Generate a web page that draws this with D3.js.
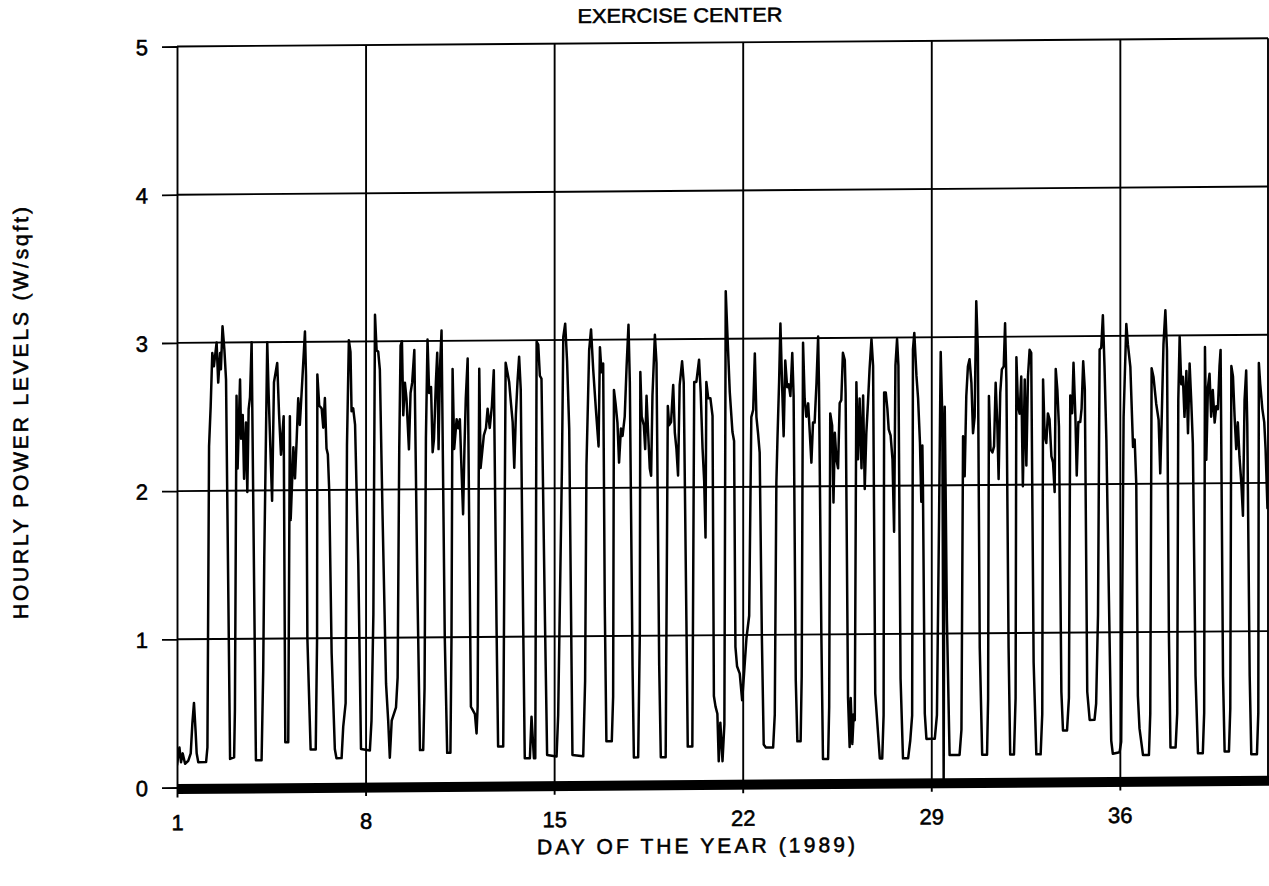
<!DOCTYPE html>
<html>
<head>
<meta charset="utf-8">
<script src="https://cdn.jsdelivr.net/npm/d3@7"></script>
<style>
  html, body { margin: 0; padding: 0; background: #fff; }
  svg { display: block; }
  text { font-family: "Liberation Sans", Arial, Helvetica, sans-serif; fill: #000; stroke: #000; stroke-width: 0.55px; }
</style>
</head>
<body>
<svg id="chart" width="1269" height="886"></svg>
<script>
// Hourly power density of the exercise center, [day of year, W/sqft]
const week1 = [
  [1.00,0.15],[1.09,0.27],[1.15,0.17],[1.21,0.23],[1.30,0.16],[1.42,0.18],[1.51,0.23],[1.57,0.43],
  [1.63,0.57],[1.69,0.38],[1.73,0.23],[1.79,0.17],[2.08,0.17],[2.13,0.27],[2.19,2.30],[2.25,2.57],
  [2.31,2.93],[2.37,2.84],[2.47,3.00],[2.53,2.73],[2.60,2.93],[2.63,2.82],[2.69,3.11],[2.76,2.95],
  [2.82,2.75],[2.97,0.19],[3.12,0.20],[3.15,0.52],[3.21,2.64],[3.25,2.15],[3.34,2.75],[3.38,2.35],
  [3.44,2.51],[3.49,2.08],[3.56,2.46],[3.61,1.99],[3.66,2.55],[3.71,2.63],[3.77,3.00],[3.93,0.18],
  [4.14,0.18],[4.20,0.78],[4.24,1.55],[4.35,3.00],[4.40,2.66],[4.53,1.93],[4.60,2.73],[4.72,2.86],
  [4.79,2.51],[4.86,2.24],[4.96,2.50],[5.02,0.30],[5.13,0.30],[5.19,2.50],[5.22,1.80],[5.32,2.29],
  [5.38,2.08],[5.44,2.33],[5.50,2.62],[5.56,2.44],[5.66,2.77],[5.75,3.07],[5.79,2.77],[5.84,1.00],
  [5.96,0.25],[6.15,0.25],[6.20,1.00],[6.21,2.78],[6.28,2.57],[6.37,2.55],[6.43,2.42],[6.49,2.62],
  [6.55,2.28],[6.60,2.24],[6.65,2.00],[6.74,0.90],[6.86,0.25],[6.92,0.19],[7.11,0.19],[7.17,0.40],
  [7.26,0.56],[7.31,2.30],[7.38,3.01],[7.44,2.93],[7.48,2.53],[7.54,2.55],[7.61,2.44],[7.73,1.50],
  [7.83,0.25]
];
const week2 = [
  [8.16,0.24],[8.22,0.44],[8.29,1.16],[8.35,3.18],[8.41,2.94],[8.47,2.93],[8.53,2.81],[8.63,1.83],
  [8.76,0.69],[8.84,0.44],[8.90,0.19],[8.97,0.44],[9.13,0.53],[9.19,0.73],[9.25,2.27],[9.30,2.97],
  [9.35,3.00],[9.40,2.50],[9.46,2.72],[9.52,2.61],[9.61,2.27],[9.67,2.65],[9.73,2.72],[9.81,2.94],
  [9.92,1.38],[10.02,0.24],[10.14,0.24],[10.19,0.66],[10.24,2.34],[10.30,3.01],[10.36,2.65],[10.43,2.69],
  [10.49,2.25],[10.54,2.34],[10.61,2.72],[10.66,2.92],[10.71,2.27],[10.76,2.81],[10.82,3.07],[10.94,1.00],
  [11.03,0.22],[11.15,0.22],[11.19,1.00],[11.23,2.81],[11.29,2.27],[11.38,2.47],[11.44,2.41],[11.50,2.47],
  [11.56,2.14],[11.62,1.83],[11.67,2.27],[11.72,2.61],[11.79,2.88],[11.91,0.53],[11.97,0.51],[12.06,0.48],
  [12.12,0.35],[12.16,0.53],[12.22,2.81],[12.27,2.14],[12.32,2.23],[12.39,2.36],[12.47,2.41],[12.53,2.54],
  [12.61,2.41],[12.69,2.56],[12.76,2.80],[12.86,1.10],[12.92,0.26],[13.11,0.26],[13.20,2.85],[13.26,2.79],
  [13.33,2.72],[13.39,2.59],[13.46,2.45],[13.52,2.14],[13.58,2.50],[13.64,2.72],[13.70,2.89],[13.76,2.67],
  [13.85,1.10],[13.91,0.18],[14.10,0.18],[14.16,0.46],[14.25,0.18],[14.30,0.18],[14.35,2.99],[14.41,2.97],
  [14.47,2.76],[14.53,2.74],[14.66,1.10],[14.74,0.20]
];
const week3 = [
  [15.09,0.19],[15.15,0.47],[15.29,2.15],[15.34,3.02],[15.41,3.11],[15.48,2.86],[15.56,2.40],[15.68,0.20],
  [16.08,0.19],[16.15,0.70],[16.20,2.15],[16.30,2.93],[16.37,3.07],[16.45,2.80],[16.55,2.53],[16.65,2.28],
  [16.70,2.95],[16.76,2.78],[16.82,2.84],[16.88,1.20],[16.94,0.29],[17.14,0.29],[17.19,0.59],[17.22,2.66],
  [17.28,2.57],[17.35,2.44],[17.41,2.17],[17.48,2.40],[17.54,2.35],[17.62,2.48],[17.69,2.82],[17.76,3.10],
  [17.81,2.71],[17.91,0.80],[17.96,0.18],[18.12,0.18],[18.18,1.00],[18.20,2.78],[18.25,2.48],[18.33,2.42],
  [18.38,2.26],[18.43,2.62],[18.49,2.37],[18.55,2.13],[18.60,2.08],[18.65,2.62],[18.74,3.03],[18.80,2.84],
  [18.90,0.80],[18.96,0.18],[19.14,0.18],[19.22,2.55],[19.27,2.42],[19.34,2.44],[19.42,2.69],[19.48,2.37],
  [19.54,2.26],[19.60,2.08],[19.66,2.69],[19.75,2.85],[19.81,2.71],[19.91,1.10],[19.96,0.25],[20.13,0.25],
  [20.20,2.71],[20.28,2.71],[20.38,2.86],[20.44,2.64],[20.51,2.26],[20.57,2.04],[20.62,1.66],[20.65,2.71],
  [20.72,2.60],[20.80,2.60],[20.88,2.48],[20.93,0.59],[20.99,0.52],[21.06,0.47],[21.11,0.15],[21.17,0.41],
  [21.25,0.15],[21.32,0.40],[21.37,3.32],[21.43,3.04],[21.52,2.64],[21.62,2.37],[21.68,2.31],[21.73,0.92],
  [21.79,0.79],[21.89,0.74],[21.98,0.56]
];
const week4 = [
  [22.05,0.74],[22.14,0.98],[22.24,1.13],[22.32,2.47],[22.39,2.52],[22.45,2.90],[22.51,2.47],[22.57,2.36],
  [22.63,2.23],[22.71,1.00],[22.78,0.26],[22.86,0.24],[23.13,0.24],[23.19,0.46],[23.25,2.03],[23.29,2.32],
  [23.35,2.70],[23.40,3.10],[23.46,2.70],[23.52,2.34],[23.58,2.85],[23.65,2.67],[23.71,2.69],[23.77,2.61],
  [23.84,2.90],[23.89,2.61],[23.97,0.69],[24.03,0.28],[24.15,0.28],[24.19,0.72],[24.24,2.97],[24.30,2.59],
  [24.36,2.47],[24.43,2.56],[24.49,2.36],[24.55,2.16],[24.61,2.43],[24.67,2.43],[24.74,2.70],[24.80,3.01],
  [24.83,2.70],[24.92,1.00],[24.98,0.16],[25.17,0.16],[25.21,0.51],[25.25,2.49],[25.32,2.41],[25.37,1.89],
  [25.42,2.36],[25.48,2.18],[25.54,2.12],[25.60,2.56],[25.66,2.58],[25.72,2.90],[25.79,2.85],[25.82,2.63],
  [25.91,0.57],[25.97,0.24],[26.01,0.57],[26.07,0.26],[26.12,0.46],[26.16,0.42],[26.22,2.70],[26.28,2.18],
  [26.34,2.59],[26.41,2.12],[26.47,2.61],[26.53,1.98],[26.59,2.36],[26.65,2.56],[26.71,2.79],[26.78,2.99],
  [26.84,2.81],[26.92,0.60],[27.09,0.16],[27.18,0.16],[27.23,0.45],[27.25,2.63],[27.31,2.63],[27.37,2.52],
  [27.42,2.38],[27.49,2.34],[27.56,2.18],[27.62,1.69],[27.67,2.81],[27.73,2.99],[27.78,2.81],[27.86,0.70],
  [27.95,0.16],[28.14,0.16],[28.22,0.28],[28.29,0.45],[28.32,2.92],[28.37,3.03],[28.45,2.74],[28.51,2.59],
  [28.58,2.29],[28.63,1.89],[28.67,2.27],[28.69,2.00],[28.76,0.46],[28.82,0.29],[29.00,0.29]
];
const week5 = [
  [29.13,0.29],[29.21,0.45],[29.29,1.79],[29.35,2.90],[29.41,2.46],[29.46,0.02],[29.50,2.53],[29.53,2.02],
  [29.58,1.10],[29.68,0.18],[30.05,0.18],[30.12,0.35],[30.18,2.33],[30.24,2.06],[30.30,2.60],[30.36,2.80],
  [30.42,2.85],[30.49,2.69],[30.55,2.35],[30.61,2.46],[30.67,3.24],[30.73,2.91],[30.80,0.90],[30.89,0.18],
  [31.07,0.18],[31.11,0.56],[31.14,2.60],[31.20,2.24],[31.27,2.22],[31.33,2.26],[31.39,2.69],[31.45,2.42],
  [31.50,2.04],[31.56,2.62],[31.62,2.78],[31.69,2.80],[31.74,3.09],[31.79,2.69],[31.87,0.90],[31.93,0.18],
  [32.07,0.18],[32.13,0.56],[32.16,2.86],[32.22,2.53],[32.28,2.48],[32.34,2.73],[32.40,1.99],[32.47,2.71],
  [32.53,2.13],[32.59,2.73],[32.65,2.91],[32.71,2.89],[32.80,0.80],[32.90,0.18],[33.06,0.18],[33.12,0.45],
  [33.15,2.71],[33.21,2.33],[33.27,2.28],[33.33,2.48],[33.39,2.44],[33.46,2.19],[33.52,2.15],[33.58,1.95],
  [33.62,2.78],[33.68,2.64],[33.74,2.39],[33.83,0.60],[33.89,0.34],[34.04,0.34],[34.11,0.56],[34.16,2.60],
  [34.23,2.48],[34.28,2.82],[34.35,2.46],[34.40,2.06],[34.46,2.42],[34.53,2.42],[34.58,2.51],[34.64,2.83],
  [34.70,2.64],[34.79,0.60],[34.88,0.41],[35.06,0.41],[35.12,0.52],[35.19,1.12],[35.25,2.91],[35.31,2.92],
  [35.37,3.14],[35.43,2.80],[35.50,2.30],[35.68,0.27],[35.74,0.18]
];
const week6 = [
  [35.99,0.19],[36.05,0.26],[36.14,2.45],[36.24,3.08],[36.30,2.94],[36.39,2.79],[36.49,2.25],[36.55,2.30],
  [36.61,2.00],[36.67,0.57],[36.73,0.35],[36.86,0.17],[37.08,0.17],[37.13,0.45],[37.18,2.78],[37.25,2.72],
  [37.35,2.54],[37.44,2.43],[37.50,2.07],[37.55,2.41],[37.62,2.94],[37.69,3.17],[37.75,2.90],[37.82,1.00],
  [37.88,0.22],[38.07,0.22],[38.13,0.45],[38.17,2.56],[38.22,2.99],[38.28,2.67],[38.34,2.72],[38.40,2.45],
  [38.47,2.76],[38.53,2.34],[38.59,2.81],[38.65,2.56],[38.71,2.27],[38.81,0.70],[38.90,0.18],[39.08,0.18],
  [39.13,0.45],[39.16,2.92],[39.21,2.16],[39.27,2.65],[39.33,2.74],[39.39,2.45],[39.45,2.63],[39.52,2.41],
  [39.58,2.52],[39.64,2.50],[39.70,2.79],[39.74,2.90],[39.83,0.70],[39.89,0.19],[40.05,0.19],[40.10,0.48],
  [40.14,2.79],[40.20,2.72],[40.26,2.45],[40.32,2.23],[40.38,2.41],[40.44,2.18],[40.51,2.00],[40.57,1.78],
  [40.63,2.56],[40.69,2.76],[40.73,2.40],[40.82,0.70],[40.88,0.17],[41.09,0.17],[41.14,0.45],[41.16,2.81],
  [41.21,2.67],[41.29,2.50],[41.36,2.41],[41.41,2.23],[41.48,1.83],[41.52,1.90]
];

const xTicks = [1, 8, 15, 22, 29, 36];
const yTicks = [0, 1, 2, 3, 4, 5];
const titleText = "EXERCISE CENTER";
const xTitle = "DAY OF THE YEAR (1989)";
const yTitle = "HOURLY POWER LEVELS (W/sqft)";

const readings = [].concat(week1, week2, week3, week4, week5, week6);

const svg = d3.select("#chart");
const plotLeft = 177, plotRight = 1268, plotTop = 46.5, plotBottom = 787.5;

const x = d3.scaleLinear().domain([1, 41.5]).range([plotLeft, plotRight]);
const y = d3.scaleLinear().domain([0, 5]).range([plotBottom, plotTop]);

// the plotted sheet sits slightly sheared: horizontals rise towards the right
const g = svg.append("g")
  .attr("transform", `translate(${plotLeft},0) skewY(-0.43) translate(${-plotLeft},0)`);

svg.append("defs").append("clipPath").attr("id", "plotClip")
  .append("rect").attr("x", plotLeft).attr("y", plotTop - 5)
  .attr("width", plotRight - plotLeft).attr("height", plotBottom - plotTop + 10);

// y ticks and labels
const yAxis = d3.axisLeft(y).tickValues(yTicks).tickSize(15).tickPadding(14)
  .tickFormat(d3.format("d"));
const yAxisG = g.append("g").attr("transform", `translate(${plotLeft},0)`).call(yAxis);
yAxisG.select(".domain").remove();
yAxisG.selectAll(".tick line").attr("stroke", "#000").attr("stroke-width", 1.8);
yAxisG.selectAll(".tick text").attr("font-size", 22).attr("dy", "0.36em");

// horizontal grid lines (top one closes the frame)
g.append("g").selectAll("line").data(yTicks.filter(v => v > 0)).join("line")
  .attr("x1", plotLeft).attr("x2", plotRight)
  .attr("y1", d => y(d)).attr("y2", d => y(d))
  .attr("stroke", "#000").attr("stroke-width", 1.9);

// vertical grid lines with tick labels below the baseline
const xAxis = d3.axisBottom(x).tickValues(xTicks).tickSize(0).tickPadding(17)
  .tickFormat(d3.format("d"));
const xAxisG = g.append("g").attr("transform", `translate(0,${plotBottom + 10})`).call(xAxis);
xAxisG.select(".domain").remove();
xAxisG.selectAll(".tick line").attr("stroke", "#000").attr("stroke-width", 1.9)
  .attr("y1", 0).attr("y2", -(plotBottom - plotTop) - 10);
xAxisG.selectAll(".tick text").attr("font-size", 22).attr("dy", "0.71em");

// right frame edge
g.append("line").attr("x1", plotRight).attr("x2", plotRight).attr("y1", y(5)).attr("y2", y(0))
  .attr("stroke", "#000").attr("stroke-width", 1.9);

// heavy zero baseline
g.append("line").attr("x1", plotLeft).attr("x2", plotRight + 2)
  .attr("y1", y(0) + 1.5).attr("y2", y(0) + 1.5)
  .attr("stroke", "#000").attr("stroke-width", 10);

// hourly trace
const line = d3.line().x(d => x(d[0])).y(d => y(d[1]));
g.append("path").datum(readings)
  .attr("clip-path", "url(#plotClip)")
  .attr("fill", "none").attr("stroke", "#000").attr("stroke-width", 2.5)
  .attr("stroke-linejoin", "round")
  .attr("d", line);

// titles
g.append("text").attr("x", 680).attr("y", 26).attr("text-anchor", "middle")
  .attr("font-size", 20).attr("textLength", 205).attr("lengthAdjust", "spacingAndGlyphs")
  .text(titleText);

g.append("text").attr("x", 696).attr("y", 857).attr("text-anchor", "middle")
  .attr("font-size", 21).attr("textLength", 318).attr("lengthAdjust", "spacing")
  .text(xTitle);

g.append("text").attr("transform", "translate(28,412) rotate(-90)")
  .attr("text-anchor", "middle")
  .attr("font-size", 21).attr("textLength", 412).attr("lengthAdjust", "spacing")
  .text(yTitle);
</script>
</body>
</html>
